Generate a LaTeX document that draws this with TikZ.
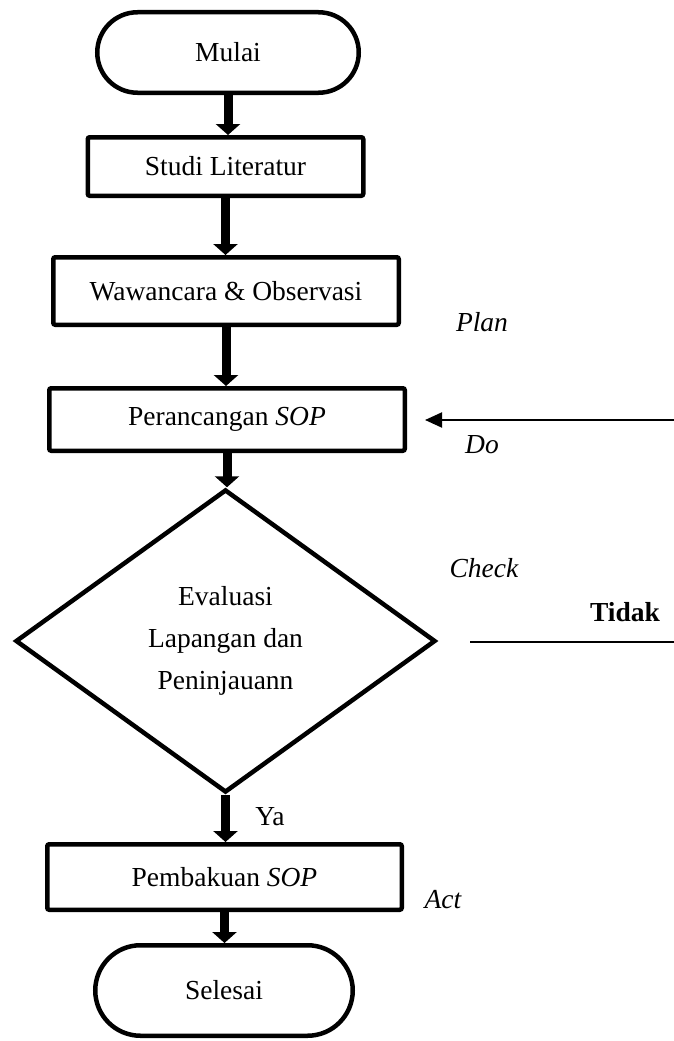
\documentclass[tikz,border=0pt]{standalone}
\usepackage{fontspec}
\setmainfont{Liberation Serif}
\usetikzlibrary{arrows.meta,shapes.geometric,shapes.misc}
\begin{document}
\begin{tikzpicture}[x=1pt,y=-1pt,
  every node/.style={font=\fontsize{27.5}{42}\selectfont},
  proc/.style={draw, line width=4.5pt, rounded corners=2pt, inner sep=0pt, align=center},
  term/.style={draw, rounded rectangle, line width=4.5pt, inner sep=0pt},
  decision/.style={draw, diamond, line width=4.5pt, inner sep=0pt, align=center, aspect=1.38},
  flow/.style={line width=9pt, -{Triangle[width=24pt,length=11pt]}},
  thinarrow/.style={line width=2pt, -{Triangle[width=15pt,length=17pt]}},
  lbl/.style={inner sep=0pt}]
\useasboundingbox (0,0) rectangle (674,1041);

\node[term, minimum width=261.5pt, minimum height=80.5pt] (mulai) at (228,52.5) {Mulai};
\node[proc, minimum width=275.5pt, minimum height=58.5pt] (studi) at (225.5,166.5) {Studi Literatur};
\node[proc, minimum width=345.5pt, minimum height=67.5pt] (wawan) at (226,291) {Wawancara \& Observasi};
\node[proc, minimum width=355.5pt, minimum height=62.5pt] (perc) at (227,419.5) {Perancangan \textit{SOP}};
\node[decision, minimum width=420pt, minimum height=303pt] (dia) at (225.5,641) {Evaluasi\\Lapangan dan\\Peninjauann};
\node[proc, minimum width=354.5pt, minimum height=65.5pt] (baku) at (224.5,877) {Pembakuan \textit{SOP}};
\node[term, minimum width=257.5pt, minimum height=90.5pt] (selesai) at (224,990.5) {Selesai};

\draw[flow] (mulai.south) -- (mulai.south |- studi.north);
\draw[flow] (studi.south) -- (studi.south |- wawan.north);
\draw[flow] (wawan.south) -- (wawan.south |- perc.north);
\draw[flow] (perc.south) -- (perc.south |- dia.north);
\draw[flow] (dia.south) -- (dia.south |- baku.north);
\draw[flow] (baku.south) -- (baku.south |- selesai.north);

\node[lbl] (plan) at (482,322) {\itshape Plan};
\node[lbl] (do) at (482,445) {\itshape Do};
\node[lbl] (check) at (484,568) {\itshape Check};
\node[lbl] (tidak) at (625,612) {\bfseries Tidak};
\node[lbl] (act) at (443,900) {\itshape Act};
\node[lbl] (ya) at (270,817) {Ya};

\coordinate (doR) at (674,420);
\draw[thinarrow, shorten >=18pt] (doR) -- (doR -| perc.east);
\coordinate (tdR) at (674,642);
\draw[line width=2.5pt, shorten >=32pt] (tdR) -- (tdR -| dia.east);
\end{tikzpicture}
\end{document}
